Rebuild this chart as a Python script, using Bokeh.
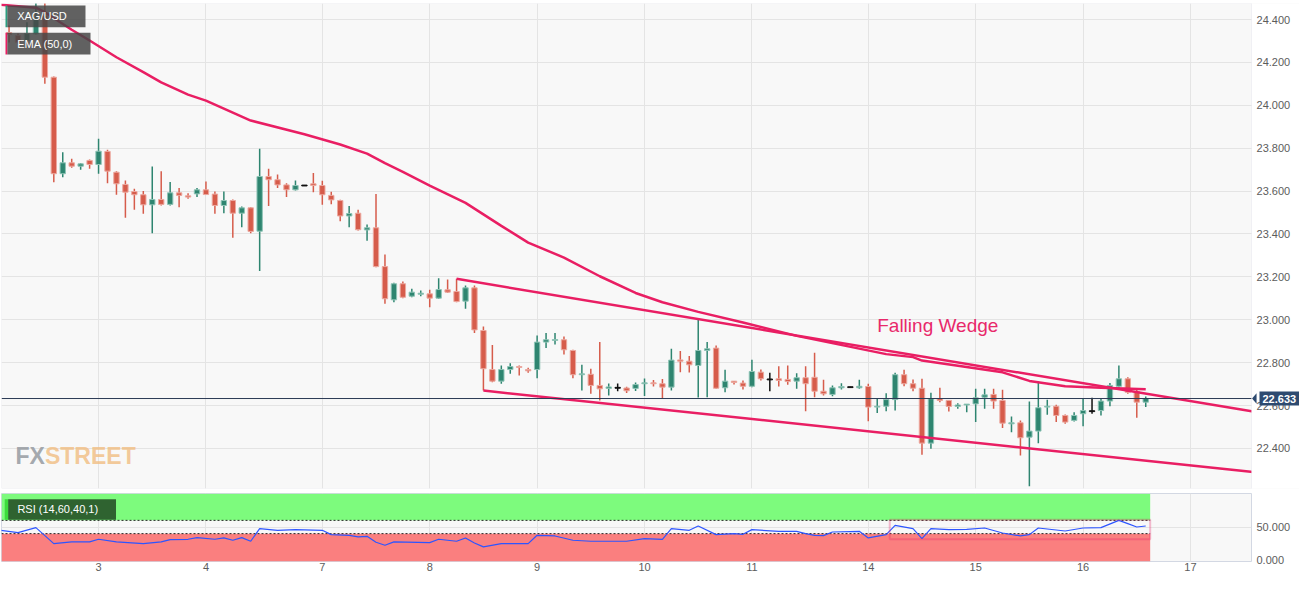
from bokeh.plotting import figure
from bokeh.layouts import column
from bokeh.models import (ColumnDataSource, FixedTicker, PrintfTickFormatter,
                          Range1d, Label, BoxAnnotation, Span, PolyAnnotation)
from bokeh.embed import file_html
from bokeh.resources import INLINE
from bokeh.core.properties import value

FONT = "Liberation Sans"

# ---------------- data (2-hour candles, index = candle number) ----------------
candle_idx = list(range(128))
opens = [24.339, 24.325, 24.302, 24.333, 24.419, 24.131, 23.681, 23.732, 23.716, 23.743,
         23.724, 23.785, 23.688, 23.631, 23.598, 23.583, 23.536, 23.561, 23.538, 23.592,
         23.578, 23.587, 23.606, 23.586, 23.533, 23.556, 23.497, 23.522, 23.413, 23.668,
         23.653, 23.629, 23.606, 23.626, 23.634, 23.626, 23.580, 23.556, 23.484, 23.497,
         23.419, 23.429, 23.248, 23.093, 23.168, 23.110, 23.119, 23.121, 23.101, 23.140,
         23.132, 23.087, 23.149, 22.950, 22.768, 22.714, 22.768, 22.782, 22.768, 22.768,
         22.896, 22.904, 22.907, 22.857, 22.744, 22.746, 22.694, 22.680, 22.683, 22.682,
         22.680, 22.702, 22.706, 22.702, 22.686, 22.813, 22.807, 22.787, 22.857, 22.868,
         22.683, 22.714, 22.705, 22.690, 22.756, 22.722, 22.725, 22.722, 22.714, 22.730,
         22.732, 22.667, 22.652, 22.683, 22.686, 22.683, 22.689, 22.593, 22.597, 22.628,
         22.744, 22.702, 22.681, 22.425, 22.632, 22.624, 22.596, 22.603, 22.608, 22.639,
         22.652, 22.624, 22.515, 22.520, 22.453, 22.481, 22.593, 22.597, 22.554, 22.531,
         22.562, 22.574, 22.577, 22.621, 22.690, 22.725, 22.666, 22.616]
highs = [24.372, 24.335, 24.387, 24.479, 24.479, 24.134, 23.781, 23.751, 23.730, 23.747,
         23.844, 23.793, 23.693, 23.649, 23.611, 23.600, 23.715, 23.693, 23.642, 23.615,
         23.590, 23.614, 23.645, 23.598, 23.598, 23.561, 23.528, 23.525, 23.797, 23.704,
         23.677, 23.637, 23.649, 23.628, 23.684, 23.648, 23.597, 23.560, 23.530, 23.513,
         23.444, 23.587, 23.304, 23.173, 23.179, 23.145, 23.137, 23.140, 23.194, 23.188,
         23.191, 23.160, 23.160, 22.969, 22.883, 22.787, 22.798, 22.787, 22.776, 22.927,
         22.938, 22.938, 22.922, 22.860, 22.791, 22.772, 22.896, 22.703, 22.703, 22.688,
         22.708, 22.726, 22.719, 22.724, 22.865, 22.855, 22.831, 22.999, 22.896, 22.880,
         22.767, 22.715, 22.717, 22.814, 22.768, 22.753, 22.784, 22.787, 22.751, 22.784,
         22.846, 22.720, 22.694, 22.704, 22.688, 22.720, 22.702, 22.632, 22.658, 22.753,
         22.767, 22.722, 22.725, 22.660, 22.683, 22.626, 22.611, 22.608, 22.678, 22.678,
         22.678, 22.674, 22.549, 22.531, 22.619, 22.712, 22.627, 22.604, 22.559, 22.569,
         22.632, 22.636, 22.632, 22.705, 22.787, 22.732, 22.678, 22.642]
lows = [24.293, 24.288, 24.294, 24.330, 24.100, 23.641, 23.665, 23.709, 23.699, 23.704,
        23.681, 23.637, 23.583, 23.476, 23.513, 23.494, 23.404, 23.533, 23.533, 23.525,
        23.564, 23.572, 23.583, 23.494, 23.497, 23.382, 23.432, 23.404, 23.227, 23.531,
        23.615, 23.572, 23.603, 23.624, 23.595, 23.536, 23.539, 23.460, 23.432, 23.416,
        23.368, 23.245, 23.075, 23.082, 23.101, 23.105, 23.110, 23.059, 23.098, 23.126,
        23.082, 23.051, 22.938, 22.670, 22.709, 22.702, 22.748, 22.740, 22.753, 22.728,
        22.868, 22.885, 22.838, 22.728, 22.670, 22.655, 22.624, 22.647, 22.667, 22.659,
        22.668, 22.645, 22.689, 22.632, 22.670, 22.756, 22.754, 22.638, 22.639, 22.678,
        22.662, 22.698, 22.675, 22.686, 22.717, 22.667, 22.689, 22.697, 22.678, 22.574,
        22.639, 22.647, 22.644, 22.675, 22.684, 22.678, 22.527, 22.565, 22.574, 22.577,
        22.690, 22.667, 22.371, 22.399, 22.616, 22.573, 22.585, 22.569, 22.523, 22.585,
        22.585, 22.495, 22.476, 22.367, 22.224, 22.425, 22.557, 22.523, 22.515, 22.526,
        22.504, 22.562, 22.554, 22.597, 22.683, 22.655, 22.543, 22.593]
closes = [24.330, 24.294, 24.335, 24.403, 24.131, 23.681, 23.732, 23.716, 23.727, 23.724,
          23.786, 23.693, 23.634, 23.595, 23.583, 23.536, 23.561, 23.538, 23.592, 23.580,
          23.572, 23.606, 23.584, 23.533, 23.556, 23.497, 23.522, 23.412, 23.668, 23.653,
          23.629, 23.606, 23.626, 23.626, 23.626, 23.583, 23.559, 23.484, 23.495, 23.420,
          23.429, 23.248, 23.098, 23.168, 23.105, 23.129, 23.124, 23.101, 23.141, 23.129,
          23.085, 23.149, 22.953, 22.772, 22.714, 22.768, 22.782, 22.778, 22.762, 22.896,
          22.907, 22.908, 22.860, 22.744, 22.748, 22.694, 22.678, 22.687, 22.683, 22.669,
          22.698, 22.706, 22.702, 22.686, 22.812, 22.807, 22.790, 22.857, 22.865, 22.681,
          22.714, 22.708, 22.690, 22.759, 22.725, 22.722, 22.717, 22.712, 22.730, 22.702,
          22.667, 22.655, 22.683, 22.689, 22.686, 22.690, 22.593, 22.597, 22.628, 22.744,
          22.702, 22.681, 22.425, 22.632, 22.624, 22.596, 22.603, 22.607, 22.636, 22.650,
          22.621, 22.518, 22.520, 22.450, 22.481, 22.590, 22.597, 22.554, 22.523, 22.554,
          22.577, 22.574, 22.621, 22.694, 22.725, 22.662, 22.616, 22.633]

ema_idx = [-1, 3, 4, 7, 9, 12, 15, 17, 20, 22, 27, 33, 37, 40, 42, 44, 47, 51, 55, 58,
           62, 66, 70, 73, 77, 82, 88, 98, 101, 102, 111, 114, 118, 122, 127]
ema_val = [24.469, 24.455, 24.434, 24.352, 24.302, 24.224, 24.155, 24.107, 24.050, 24.022,
           23.929, 23.865, 23.817, 23.775, 23.730, 23.690, 23.626, 23.545, 23.438, 23.360,
           23.290, 23.203, 23.125, 23.082, 23.037, 22.987, 22.925, 22.840, 22.826, 22.810,
           22.755, 22.715, 22.690, 22.683, 22.676]

# Falling wedge trend lines (start / end)
wedge_upper_idx = [50, 139]
wedge_upper_val = [23.191, 22.572]
wedge_lower_idx = [53, 139]
wedge_lower_val = [22.670, 22.290]
last_price = 22.633

# RSI(14)
rsi_idx = [-1, 1, 3, 5, 7, 9, 10, 12, 15, 17, 18, 20, 21, 23, 24, 25, 26, 27, 28, 30,
           32, 35, 36, 38, 39, 40, 41, 42, 43, 47, 48, 50, 51, 52, 53, 55, 58, 59, 61, 63,
           65, 69, 71, 73, 74, 76, 77, 79, 81, 82, 83, 86, 88, 89, 90, 91, 92, 95, 96, 98,
           99, 101, 102, 103, 105, 107, 109, 111, 113, 114, 115, 118, 120, 122, 124, 125,
           126, 127]
rsi_val = [45, 41.5, 49, 25, 27.5, 27.5, 31.5, 27.5, 25, 27.5, 31, 31.5, 34, 31.5, 33.5,
           30, 34, 28.5, 47.5, 45, 46, 45, 38.5, 37.5, 35, 36, 27, 22.5, 27.5, 26.5, 31.5,
           28.5, 33.5, 26, 20, 25, 25, 37.5, 36.5, 30, 28.5, 28.5, 32.5, 31.5, 47.5, 45,
           51.5, 38.5, 40, 39, 46, 43.5, 43.5, 40, 37.5, 37, 42.5, 43.5, 33.5, 38.5, 52.5,
           47.5, 32.5, 47.5, 46, 46.5, 48.5, 41, 36.5, 38.5, 48.5, 44, 48.5, 49, 60, 55,
           50, 51.5]
rsi_upper_level = 60
rsi_lower_level = 40
rsi_band_end = 127.5
rsi_box_idx = [98.4, 127.5]
rsi_box_val = [31.5, 61]

day_idx = [10, 22, 35, 47, 59, 71, 83, 96, 108, 120, 132]
day_labels = ["3", "4", "7", "8", "9", "10", "11", "14", "15", "16", "17"]
price_ticks = [22.4, 22.6, 22.8, 23.0, 23.2, 23.4, 23.6, 23.8, 24.0, 24.2, 24.4]
rsi_ticks = [0, 50]

# ---------------- styling / layout constants ----------------
GREEN, GREEN_EDGE = "#2e8570", "#8fc4b6"
RED, RED_EDGE = "#d65c4b", "#eca89f"
PINK = "#e91e63"
BG = "#f8f8f8"
GRID = "#e4e4e4"
OUTLINE = "#d3d8e3"
LABEL_COLOR = "#5c5c5c"
TAG_COLOR = "#2d4a70"

X0 = -0.844          # left edge of the plotting area (candle units)
X_AXIS = 138.82      # right edge of the plotting area
X_END = 144.18       # right edge of the page area (price-axis column)
LBL_X = 139.38       # where price labels start

colors, edges, tops, bottoms = [], [], [], []
for o, c in zip(opens, closes):
    if c > o:
        colors.append(GREEN); edges.append(GREEN_EDGE)
    elif c < o:
        colors.append(RED); edges.append(RED_EDGE)
    else:
        colors.append("#111111"); edges.append("#111111")
    t, b = max(o, c), min(o, c)
    if t - b < 0.004:
        m = (t + b) / 2
        t, b = m + 0.002, m - 0.002
    tops.append(t); bottoms.append(b)

src = ColumnDataSource(dict(x=candle_idx, open=opens, high=highs, low=lows, close=closes,
                            top=tops, bottom=bottoms, color=colors, edge=edges))

p = figure(frame_width=1298, frame_height=485, x_range=Range1d(X0, X_END),
           y_range=Range1d(22.2135, 24.4746), x_axis_location=None, y_axis_location=None,
           output_backend="svg", toolbar_location=None, min_border_left=1, min_border_right=0,
           min_border_top=3, min_border_bottom=5, background_fill_color=BG,
           border_fill_color="white", outline_line_color=None)

p.xgrid.ticker = FixedTicker(ticks=day_idx)
p.ygrid.ticker = FixedTicker(ticks=price_ticks)
p.xgrid.grid_line_color = GRID
p.ygrid.grid_line_color = GRID

# watermark
p.text(x=[0.72], y=[22.3673], text=["FX"], text_font=value(FONT),
       text_font_style="bold", text_font_size="23px", text_color="#8f949a", text_alpha=0.8,
       text_baseline="middle", text_align="left")
p.text(x=[4.01], y=[22.3673], text=["STREET"], text_font=value(FONT),
       text_font_style="bold", text_font_size="23px", text_color="#f1bd80", text_alpha=0.8,
       text_baseline="middle", text_align="left")

p.segment(x0="x", y0="low", x1="x", y1="high", line_color="color", line_width=1.5, source=src)
p.vbar(x="x", width=0.6, top="top", bottom="bottom", fill_color="color", line_color="edge",
       line_width=1, source=src)

p.line(ema_idx, ema_val, line_color=PINK, line_width=2.5)
p.line(wedge_upper_idx, wedge_upper_val, line_color=PINK, line_width=2.5)
p.line(wedge_lower_idx, wedge_lower_val, line_color=PINK, line_width=2.5)

p.text(x=[97.0], y=[22.973], text=["Falling Wedge"], text_font=value(FONT),
       text_font_size="19px", text_color="#e8296b", text_baseline="middle", text_align="left")

p.add_layout(Span(location=last_price, dimension="width", line_color="#2b3a55", line_width=1))

# price-axis column: white area, frame border, tick labels, last-price tag
p.add_layout(BoxAnnotation(left=X_AXIS, fill_color="white", fill_alpha=1, line_color=None))
p.add_layout(BoxAnnotation(right=X_AXIS, fill_alpha=0, line_color=OUTLINE, line_width=1))
for t in price_ticks:
    p.add_layout(Label(x=LBL_X, y=t, text=f"{t:.3f}", text_color=LABEL_COLOR,
                       text_font=FONT, text_font_size="11px", text_baseline="middle"))
p.add_layout(PolyAnnotation(xs=[X_AXIS + 0.06, LBL_X, LBL_X],
                            ys=[last_price, last_price + 0.024, last_price - 0.024],
                            fill_color=TAG_COLOR, fill_alpha=1, line_color=None))
p.add_layout(Label(x=LBL_X + 0.33, y=last_price, text=f"{last_price:.3f}", text_color="white",
                   text_font=FONT, text_font_style="bold", text_font_size="11px",
                   text_baseline="middle", background_fill_color=TAG_COLOR, padding=3))

# top-left legend boxes
p.add_layout(BoxAnnotation(left=-0.207, right=8.54, top=24.4653, bottom=24.3641,
                           fill_color="#474747", fill_alpha=0.85, line_color=None))
p.add_layout(BoxAnnotation(left=-0.397, right=-0.207, top=24.4653, bottom=24.3641,
                           fill_color="#2a9d7f", fill_alpha=1, line_color=None))
p.add_layout(BoxAnnotation(left=-0.207, right=9.1, top=24.338, bottom=24.2368,
                           fill_color="#474747", fill_alpha=0.85, line_color=None))
p.add_layout(BoxAnnotation(left=-0.397, right=-0.207, top=24.338, bottom=24.2368,
                           fill_color=PINK, fill_alpha=1, line_color=None))
p.add_layout(Label(x=0.91, y=24.4147, text="XAG/USD", text_color="white", text_font=FONT,
                   text_font_size="11px", text_baseline="middle"))
p.add_layout(Label(x=0.91, y=24.2874, text="EMA (50,0)", text_color="white", text_font=FONT,
                   text_font_size="11px", text_baseline="middle"))

# ---------------- RSI panel ----------------
p2 = figure(frame_width=1250, frame_height=68, x_range=Range1d(X0, X_AXIS),
            y_range=Range1d(-2, 100.5), y_axis_location="right", output_backend="svg",
            toolbar_location=None, min_border_left=1, min_border_right=48, min_border_top=0,
            min_border_bottom=0, background_fill_color=BG, border_fill_color="white",
            outline_line_color=OUTLINE)

p2.add_layout(BoxAnnotation(right=rsi_band_end, bottom=rsi_upper_level, top=100,
                            fill_color="#7dfb7d", fill_alpha=1, line_color=None, level="underlay"))
p2.add_layout(BoxAnnotation(right=rsi_band_end, top=rsi_lower_level,
                            fill_color="#fa7f7f", fill_alpha=1, line_color=None, level="underlay"))

p2.xaxis.ticker = FixedTicker(ticks=day_idx)
p2.xaxis.major_label_overrides = {t: l for t, l in zip(day_idx, day_labels)}
p2.yaxis.ticker = FixedTicker(ticks=rsi_ticks)
p2.yaxis.formatter = PrintfTickFormatter(format="%.3f")
p2.ygrid.ticker = FixedTicker(ticks=[50])
p2.xgrid.grid_line_color = GRID
p2.ygrid.grid_line_color = GRID
for a in (p2.xaxis[0], p2.yaxis[0]):
    a.axis_line_color = None
    a.major_tick_line_color = None
    a.minor_tick_line_color = None
    a.major_tick_out = 0
    a.major_tick_in = 0
    a.minor_tick_out = 0
    a.major_label_text_font = FONT
    a.major_label_text_font_size = "11px"
    a.major_label_text_color = LABEL_COLOR
p2.yaxis.major_label_standoff = 5
p2.xaxis.major_label_standoff = 1

lvl_src = ColumnDataSource(dict(x0=[X0, X0], x1=[rsi_band_end, rsi_band_end],
                                y=[rsi_upper_level, rsi_lower_level]))
p2.segment(x0="x0", y0="y", x1="x1", y1="y", line_color="#222222", line_width=1,
           line_dash="2 2", source=lvl_src)

p2.line(rsi_idx, rsi_val, line_color="#2d55ff", line_width=1.2)

p2.add_layout(BoxAnnotation(left=rsi_box_idx[0], right=rsi_box_idx[1], bottom=rsi_box_val[0],
                            top=rsi_box_val[1], fill_alpha=0, line_color="#e8266a",
                            line_width=2))

p2.add_layout(BoxAnnotation(left=-0.106, right=11.95, bottom=61, top=92,
                            fill_color="#2f6330", fill_alpha=1, line_color=None))
p2.add_layout(BoxAnnotation(left=-0.486, right=-0.106, bottom=61, top=92,
                            fill_color="#3ddc3d", fill_alpha=1, line_color=None))
p2.add_layout(Label(x=0.93, y=76.5, text="RSI (14,60,40,1)", text_color="white",
                    text_font=FONT, text_font_size="11px", text_baseline="middle"))

layout = column(p, p2, spacing=0)
open("out.html", "w").write(file_html(layout, INLINE))
